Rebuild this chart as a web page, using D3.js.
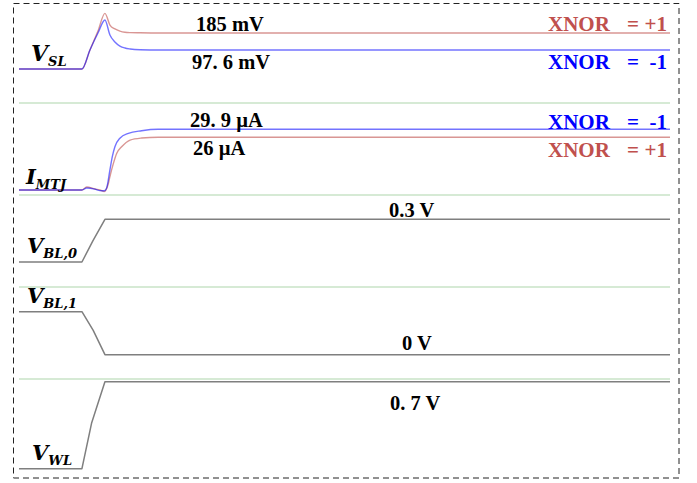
<!DOCTYPE html>
<html>
<head>
<meta charset="utf-8">
<script src="https://cdn.jsdelivr.net/npm/d3@7/dist/d3.min.js"></script>
<style>
  html, body { margin: 0; padding: 0; background: #fff; }
  svg { display: block; }
</style>
</head>
<body>
<svg id="chart" width="697" height="483"></svg>
<script>
// ---- time axis (ns) ----
const timeDomain = [0, 30];

// ---- V_SL (mV) ----
const vslPlusT  = [0, 2.90, 3.27, 3.64, 3.96, 4.19, 4.42, 4.65, 4.88, 5.12, 5.58, 6.50, 30];
const vslPlus   = [0, 0, 98, 195, 286, 226, 206, 195, 189, 187, 186, 185, 185];
const vslMinusT = [0, 2.90, 3.27, 3.64, 3.96, 4.19, 4.42, 4.65, 4.88, 5.12, 5.58, 6.50, 30];
const vslMinus  = [0, 0, 98, 185, 252, 175, 139, 118, 108, 103, 99, 97.6, 97.6];

// ---- I_MTJ (uA) ----
const imtjPlusT  = [0, 2.90, 3.12, 3.50, 3.73, 3.93, 4.12, 4.19, 4.35, 4.50, 4.73, 5.12, 5.65, 6.41, 30];
const imtjPlus   = [0, 0, 1.5, 0.5, 0, -0.8, 3.3, 6.6, 13.1, 18, 21.3, 24.6, 25.6, 26, 26];
const imtjMinusT = [0, 2.90, 3.12, 3.50, 3.73, 3.93, 4.04, 4.19, 4.30, 4.42, 4.65, 5.04, 5.65, 6.41, 30];
const imtjMinus  = [0, 0, 1.0, 0.4, -0.3, -0.4, 1, 9.9, 16.4, 21.3, 25.5, 27.9, 29.2, 29.9, 29.9];

// ---- bit lines and word line (V) ----
const bl0T = [0, 2.90, 3.41, 3.96, 30];
const bl0  = [0, 0, 0.15, 0.3, 0.3];
const bl1T = [0, 2.90, 3.42, 3.96, 30];
const bl1  = [0.3, 0.3, 0.17, 0, 0];
const wlT  = [0, 2.90, 3.35, 3.96, 30];
const wl   = [0, 0, 0.37, 0.7, 0.7];

// ---- text ----
const signalNames = [
  { main: "V", sub: "SL" },
  { main: "I", sub: "MTJ" },
  { main: "V", sub: "BL,0" },
  { main: "V", sub: "BL,1" },
  { main: "V", sub: "WL" }
];
const valueLabels = ["185 mV", "97. 6 mV", "29. 9 \u00b5A", "26 \u00b5A", "0.3 V", "0 V", "0. 7 V"];
const xnorLabels = ["= +1", "= -1"];

const RED = "#c0504d", BLUE = "#0000ff", GRAY = "#7f7f7f";

const svg = d3.select("#chart");
const x = d3.scaleLinear().domain(timeDomain).range([19, 670]);

// vertical scale of each stacked panel
const yVsl  = d3.scaleLinear().domain([0, 185]).range([69, 33]);
const yImtj = d3.scaleLinear().domain([0, 26]).range([190, 137.2]);
const yBl0  = d3.scaleLinear().domain([0, 0.3]).range([262, 219.3]);
const yBl1  = d3.scaleLinear().domain([0, 0.3]).range([354.7, 311.7]);
const yWl   = d3.scaleLinear().domain([0, 0.7]).range([468.7, 381.7]);

// dashed frame
svg.append("rect")
  .attr("x", 13.5).attr("y", 3.5).attr("width", 665.5).attr("height", 474.5)
  .attr("fill", "none").attr("stroke", "#222").attr("stroke-width", 1)
  .attr("stroke-dasharray", "6,4");

// panel separators
const separators = [103, 195, 287, 379];
svg.selectAll("line.sep").data(separators).join("line")
  .attr("class", "sep")
  .attr("x1", x(timeDomain[0])).attr("x2", x(timeDomain[1]))
  .attr("y1", d => d).attr("y2", d => d)
  .attr("stroke", "#d6ead5").attr("stroke-width", 2);

function trace(ts, vs, yScale, color, opacity, width, curve) {
  const pts = ts.map((t, i) => [t, vs[i]]);
  const line = d3.line().x(d => x(d[0])).y(d => yScale(d[1])).curve(curve);
  svg.append("path").datum(pts)
    .attr("d", line)
    .attr("fill", "none")
    .attr("stroke", color)
    .attr("stroke-opacity", opacity)
    .attr("stroke-width", width)
    .attr("stroke-linejoin", "round");
}

const smooth = d3.curveMonotoneX, sharp = d3.curveLinear;
trace(vslPlusT, vslPlus, yVsl, RED, 0.6, 1.4, smooth);
trace(vslMinusT, vslMinus, yVsl, BLUE, 0.55, 1.4, smooth);
trace(imtjPlusT, imtjPlus, yImtj, RED, 0.6, 1.4, smooth);
trace(imtjMinusT, imtjMinus, yImtj, BLUE, 0.55, 1.4, smooth);
trace(bl0T, bl0, yBl0, GRAY, 1, 1.5, sharp);
trace(bl1T, bl1, yBl1, GRAY, 1, 1.5, sharp);
trace(wlT, wl, yWl, GRAY, 1, 1.5, sharp);

// signal names with subscripts
const namePos = [
  { x: 31, y: 61, size: 22 },
  { x: 26, y: 184, size: 21 },
  { x: 27, y: 253, size: 21 },
  { x: 27, y: 303, size: 21 },
  { x: 32, y: 460, size: 21 }
];
signalNames.forEach((n, i) => {
  const p = namePos[i];
  const t = svg.append("text")
    .attr("x", p.x).attr("y", p.y)
    .attr("font-family", "'DejaVu Serif', serif")
    .attr("font-weight", "bold").attr("font-style", "italic")
    .attr("fill", "#000");
  t.append("tspan").attr("font-size", p.size).text(n.main);
  t.append("tspan").attr("font-size", 13).attr("dx", 0).attr("dy", 5).text(n.sub);
});

// value annotations
const valuePos = [
  [196, 31], [192, 68.5], [190, 127], [193, 155], [389, 217], [402, 350], [390, 410]
];
svg.selectAll("text.val").data(valueLabels).join("text")
  .attr("class", "val")
  .attr("x", (d, i) => valuePos[i][0]).attr("y", (d, i) => valuePos[i][1])
  .attr("font-family", "'Liberation Serif', 'Times New Roman', serif")
  .attr("font-weight", "bold").attr("font-size", 20.5)
  .attr("fill", "#000")
  .style("white-space", "pre")
  .text(d => d);

// XNOR annotations
const xnorItems = [
  { y: 31, label: xnorLabels[0], color: RED },
  { y: 68.5, label: xnorLabels[1], color: BLUE },
  { y: 128.5, label: xnorLabels[1], color: BLUE },
  { y: 156.5, label: xnorLabels[0], color: RED }
];
xnorItems.forEach(d => {
  const g = svg.append("g")
    .attr("font-family", "'Liberation Serif', 'Times New Roman', serif")
    .attr("font-weight", "bold").attr("font-size", 21)
    .attr("fill", d.color);
  g.append("text").attr("x", 548).attr("y", d.y).text("XNOR");
  g.append("text").attr("x", 627).attr("y", d.y).text("=");
  g.append("text").attr("x", 667).attr("y", d.y).attr("text-anchor", "end")
    .text(d.label.replace("= ", ""));
});
</script>
</body>
</html>
